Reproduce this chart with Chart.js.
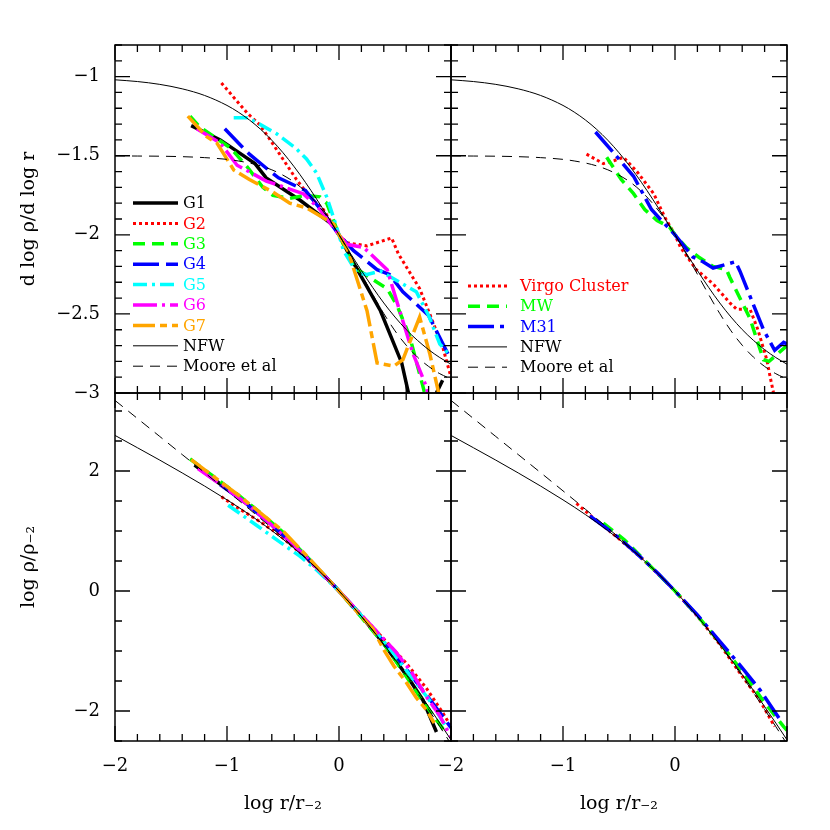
<!DOCTYPE html>
<html>
<head>
<meta charset="utf-8">
<script src="https://cdn.jsdelivr.net/npm/chart.js@4.4.0/dist/chart.umd.min.js"></script>
<style>
body { margin: 0; background: #fff; }
#wrap { position: relative; width: 830px; height: 830px; background: #fff; }
#wrap canvas { position: absolute; left: 0; top: 0; }
</style>
</head>
<body>
<div id="wrap">
  <canvas id="tl" width="830" height="830"></canvas>
  <canvas id="tr" width="830" height="830"></canvas>
  <canvas id="bl" width="830" height="830"></canvas>
  <canvas id="br" width="830" height="830"></canvas>
</div>
<script>
// tick labels
const xTickLabels = [-2, -1, 0];
const slopeTickLabels = [-3, -2.5, -2, -1.5, -1];
const densTickLabels = [-2, 0, 2];

// NFW and Moore model curves
const modelX = [-2, -1.8, -1.6, -1.4, -1.2, -1.0, -0.9, -0.8, -0.7, -0.6, -0.5, -0.4, -0.3, -0.2, -0.1, 0, 0.1, 0.2, 0.3, 0.4, 0.5, 0.6, 0.7, 0.8, 0.9, 1.0];
const nfwSlope = [-1.02, -1.031, -1.049, -1.077, -1.119, -1.182, -1.224, -1.274, -1.333, -1.402, -1.481, -1.570, -1.668, -1.774, -1.885, -2.0, -2.115, -2.226, -2.332, -2.431, -2.520, -2.599, -2.667, -2.726, -2.776, -2.818];
const mooreSlope = [-1.501, -1.502, -1.503, -1.506, -1.512, -1.523, -1.533, -1.546, -1.564, -1.589, -1.623, -1.667, -1.726, -1.801, -1.892, -2.0, -2.121, -2.249, -2.377, -2.498, -2.607, -2.698, -2.773, -2.832, -2.878, -2.911];
const nfwDens = [2.593, 2.388, 2.181, 1.968, 1.749, 1.519, 1.399, 1.274, 1.144, 1.007, 0.863, 0.711, 0.549, 0.377, 0.194, 0, -0.206, -0.423, -0.651, -0.889, -1.137, -1.393, -1.656, -1.926, -2.201, -2.481];
const mooreDens = [3.176, 2.876, 2.575, 2.274, 1.973, 1.669, 1.517, 1.363, 1.207, 1.050, 0.889, 0.725, 0.555, 0.379, 0.195, 0, -0.206, -0.424, -0.656, -0.900, -1.155, -1.420, -1.694, -1.975, -2.260, -2.550];

// top left: logarithmic slope of G1..G7
const g1SlopeX = [-1.32, -1.06, -0.75, -0.65, -0.35, -0.05, 0, 0.1, 0.37, 0.56, 0.62, 0.74, 0.87, 0.925];
const g1Slope = [-1.31, -1.40, -1.55, -1.64, -1.78, -1.94, -2.0, -2.14, -2.48, -2.81, -3.0, -3.25, -3.0, -2.92];
const g2SlopeX = [-1.05, -0.82, -0.7, -0.53, -0.38, -0.26, -0.14, 0, 0.07, 0.25, 0.47, 0.53, 0.72, 0.81, 0.93, 1.0];
const g2Slope = [-1.04, -1.23, -1.31, -1.49, -1.65, -1.76, -1.84, -2.0, -2.05, -2.07, -2.02, -2.12, -2.34, -2.50, -2.72, -2.90];
const g3SlopeX = [-1.33, -1.24, -0.97, -0.82, -0.68, -0.59, -0.44, -0.3, -0.17, -0.11, 0, 0.13, 0.19, 0.34, 0.43, 0.52, 0.63, 0.75, 0.8];
const g3Slope = [-1.25, -1.32, -1.45, -1.57, -1.70, -1.75, -1.77, -1.75, -1.76, -1.80, -2.0, -2.20, -2.23, -2.30, -2.34, -2.45, -2.64, -2.96, -3.1];
const g4SlopeX = [-1.02, -0.87, -0.8, -0.63, -0.54, -0.39, -0.3, -0.14, 0, 0.13, 0.34, 0.45, 0.57, 0.8, 0.95, 1.0];
const g4Slope = [-1.33, -1.44, -1.49, -1.59, -1.64, -1.69, -1.72, -1.86, -2.0, -2.10, -2.22, -2.25, -2.36, -2.51, -2.72, -2.79];
const g5SlopeX = [-0.94, -0.81, -0.56, -0.39, -0.29, -0.2, -0.11, -0.04, 0, 0.04, 0.16, 0.25, 0.37, 0.69, 0.8, 0.9, 1.0];
const g5Slope = [-1.26, -1.26, -1.36, -1.45, -1.52, -1.61, -1.76, -1.91, -2.0, -2.10, -2.24, -2.25, -2.23, -2.36, -2.51, -2.69, -2.77];
const g6SlopeX = [-1.27, -1.06, -0.91, -0.65, -0.32, -0.17, 0, 0.07, 0.22, 0.43, 0.52, 0.66, 0.78, 0.82];
const g6Slope = [-1.33, -1.42, -1.56, -1.66, -1.74, -1.84, -2.0, -2.06, -2.08, -2.22, -2.43, -2.75, -2.96, -3.1];
const g7SlopeX = [-1.35, -1.18, -1.09, -0.94, -0.8, -0.59, -0.44, -0.29, -0.05, 0, 0.08, 0.25, 0.34, 0.49, 0.57, 0.72, 0.81, 0.89];
const g7Slope = [-1.25, -1.38, -1.42, -1.59, -1.65, -1.73, -1.80, -1.83, -1.93, -2.0, -2.10, -2.48, -2.81, -2.83, -2.79, -2.52, -2.75, -3.0];

// top right: Virgo, MW, M31
const virgoSlopeX = [-0.79, -0.64, -0.54, -0.46, -0.34, -0.19, -0.09, 0, 0.05, 0.19, 0.34, 0.49, 0.55, 0.67, 0.74, 0.82, 0.85, 0.88];
const virgoSlope = [-1.49, -1.55, -1.53, -1.51, -1.60, -1.74, -1.89, -2.0, -2.08, -2.22, -2.31, -2.43, -2.47, -2.47, -2.60, -2.79, -2.90, -3.0];
const mwSlopeX = [-0.61, -0.48, -0.37, -0.27, -0.16, -0.05, 0, 0.1, 0.21, 0.34, 0.46, 0.49, 0.67, 0.79, 0.84, 0.92, 1.0];
const mwSlope = [-1.51, -1.65, -1.74, -1.84, -1.91, -1.95, -2.0, -2.08, -2.14, -2.20, -2.22, -2.27, -2.53, -2.79, -2.80, -2.75, -2.70];
const m31SlopeX = [-0.71, -0.55, -0.37, -0.21, -0.12, 0, 0.16, 0.25, 0.34, 0.54, 0.58, 0.79, 0.89, 0.97, 1.0];
const m31Slope = [-1.35, -1.48, -1.63, -1.84, -1.91, -2.0, -2.14, -2.17, -2.21, -2.17, -2.23, -2.60, -2.73, -2.68, -2.69];

// bottom left: density of G1..G7
const g1DensX = [-1.29, -1.0, -0.8, -0.6, -0.4, -0.2, 0, 0.2, 0.4, 0.63, 0.75, 0.87];
const g1Dens = [2.10, 1.70, 1.42, 1.10, 0.76, 0.39, 0, -0.42, -0.88, -1.48, -1.82, -2.35];
const g2DensX = [-1.05, -0.9, -0.7, -0.53, -0.35, -0.2, 0, 0.2, 0.4, 0.6, 0.78, 0.93, 1.0];
const g2Dens = [1.57, 1.38, 1.15, 0.93, 0.64, 0.38, 0, -0.40, -0.80, -1.20, -1.62, -2.04, -2.26];
const g3DensX = [-1.33, -1.1, -0.9, -0.7, -0.5, -0.3, 0, 0.2, 0.4, 0.6, 0.72, 0.85, 0.95];
const g3Dens = [2.20, 1.88, 1.60, 1.30, 0.98, 0.60, 0, -0.44, -0.88, -1.42, -1.76, -2.10, -2.35];
const g4DensX = [-1.06, -0.85, -0.6, -0.4, -0.2, 0, 0.2, 0.4, 0.6, 0.8, 0.95, 1.0];
const g4Dens = [1.77, 1.49, 1.10, 0.76, 0.39, 0, -0.41, -0.84, -1.30, -1.78, -2.15, -2.28];
const g5DensX = [-0.99, -0.74, -0.53, -0.35, -0.2, 0, 0.2, 0.4, 0.6, 0.8, 0.97];
const g5Dens = [1.43, 1.10, 0.82, 0.58, 0.35, 0, -0.41, -0.84, -1.32, -1.80, -2.30];
const g6DensX = [-1.26, -1.0, -0.8, -0.6, -0.4, -0.2, 0, 0.3, 0.5, 0.65, 0.78, 0.9, 1.0];
const g6Dens = [2.04, 1.70, 1.42, 1.10, 0.76, 0.39, 0, -0.60, -1.0, -1.36, -1.76, -2.08, -2.44];
const g7DensX = [-1.32, -1.1, -0.9, -0.7, -0.5, -0.3, 0, 0.2, 0.3, 0.4, 0.49, 0.6, 0.69, 0.78, 0.85];
const g7Dens = [2.19, 1.88, 1.60, 1.30, 1.00, 0.61, 0, -0.43, -0.62, -0.98, -1.25, -1.52, -1.78, -1.98, -2.2];

// bottom right: Virgo, MW, M31
const virgoDensX = [-0.88, -0.7, -0.5, -0.3, -0.1, 0, 0.2, 0.4, 0.58, 0.75, 0.89];
const virgoDens = [1.46, 1.17, 0.87, 0.55, 0.19, 0, -0.42, -0.89, -1.37, -1.80, -2.26];
const mwDensX = [-0.64, -0.45, -0.25, 0, 0.2, 0.4, 0.6, 0.8, 0.97, 1.0];
const mwDens = [1.13, 0.85, 0.47, 0, -0.41, -0.86, -1.34, -1.86, -2.26, -2.32];
const m31DensX = [-0.76, -0.55, -0.35, -0.15, 0, 0.2, 0.4, 0.6, 0.76, 0.94];
const m31Dens = [1.25, 0.96, 0.64, 0.29, 0, -0.40, -0.84, -1.28, -1.65, -2.15];

const serif = 'DejaVu Serif';

// line styles
const styles = {
  G1: {color: '#000000', dash: [], width: 3.5},
  G2: {color: '#ff0000', dash: [3, 3], width: 3},
  G3: {color: '#00ff00', dash: [12, 7], width: 3.5},
  G4: {color: '#0000ff', dash: [26, 7], width: 3.5},
  G5: {color: '#00ffff', dash: [14, 5, 3, 5], width: 3.5},
  G6: {color: '#ff00ff', dash: [24, 5, 3, 5], width: 3.5},
  G7: {color: '#ffa500', dash: [22, 5, 7, 5], width: 3.5},
  'Virgo Cluster': {color: '#ff0000', dash: [3, 3], width: 3},
  MW: {color: '#00ff00', dash: [12, 7], width: 3.5},
  M31: {color: '#0000ff', dash: [26, 6, 4, 6], width: 3.5},
  NFW: {color: '#000000', dash: [], width: 1},
  'Moore et al': {color: '#000000', dash: [10, 7], width: 1}
};

function pts(xs, ys) {
  return xs.map((x, i) => ({x: x, y: ys[i]}));
}

// order: lower number is drawn on top
function series(name, xs, ys, order, smooth) {
  const s = styles[name];
  return {
    label: name,
    data: pts(xs, ys),
    order: order,
    borderColor: s.color,
    borderDash: s.dash,
    borderWidth: s.width,
    pointRadius: 0,
    fill: false,
    clip: 0,
    tension: 0,
    cubicInterpolationMode: smooth ? 'monotone' : 'default'
  };
}

function fmt(v) {
  return String(v).replace('-', '\u2212');
}

// inward ticks on all four sides plus the frame
const frameTicks = {
  id: 'frameTicks',
  afterDatasetsDraw(chart, args, o) {
    const {ctx, chartArea: a, scales} = chart;
    ctx.save();
    ctx.strokeStyle = '#000';
    ctx.lineWidth = 1.3;
    ctx.setLineDash([]);
    ctx.beginPath();
    for (let i = 0; i <= 15; i++) {
      const px = scales.x.getPixelForValue(-2 + i * 0.2);
      const len = i % 5 === 0 ? 15 : 7;
      ctx.moveTo(px, a.bottom); ctx.lineTo(px, a.bottom - len);
      ctx.moveTo(px, a.top); ctx.lineTo(px, a.top + len);
    }
    const n = Math.round((o.yTo - o.yFrom) / o.yStep);
    for (let i = 0; i <= n; i++) {
      const v = o.yFrom + i * o.yStep;
      const r = v / o.yMajor;
      const len = Math.abs(r - Math.round(r)) < 1e-6 ? 15 : 7;
      const py = scales.y.getPixelForValue(v);
      ctx.moveTo(a.left, py); ctx.lineTo(a.left + len, py);
      ctx.moveTo(a.right, py); ctx.lineTo(a.right - len, py);
    }
    ctx.stroke();
    ctx.lineWidth = 1.5;
    ctx.strokeRect(a.left, a.top, a.right - a.left, a.bottom - a.top);
    ctx.restore();
  }
};

// line key drawn inside the panel
const lineKey = {
  id: 'lineKey',
  afterDraw(chart, args, o) {
    if (!o.items) return;
    const ctx = chart.ctx;
    ctx.save();
    ctx.font = '16px "' + serif + '"';
    ctx.textBaseline = 'middle';
    o.items.forEach((name, i) => {
      const s = styles[name];
      const y = o.y + i * o.dy;
      ctx.strokeStyle = s.color;
      ctx.lineWidth = s.width;
      ctx.setLineDash(s.dash);
      ctx.beginPath();
      ctx.moveTo(o.x0, y); ctx.lineTo(o.x1, y);
      ctx.stroke();
      ctx.fillStyle = s.color;
      ctx.fillText(name, o.tx, y + 1);
    });
    ctx.restore();
  }
};

function makePanel(id, cfg) {
  new Chart(document.getElementById(id), {
    type: 'line',
    data: {datasets: cfg.datasets},
    options: {
      responsive: false,
      animation: false,
      events: [],
      layout: {padding: cfg.padding},
      plugins: {
        legend: {display: false},
        tooltip: {enabled: false},
        frameTicks: cfg.ticks,
        lineKey: cfg.key || {}
      },
      scales: {
        x: {
          type: 'linear', min: -2, max: 1,
          display: cfg.showX,
          afterFit: s => { s.height = cfg.showX ? 89 : 0; },
          afterBuildTicks: s => { s.ticks = xTickLabels.map(v => ({value: v})); },
          grid: {display: false, drawTicks: false},
          border: {display: false},
          ticks: {padding: 15, color: '#000', font: {family: serif, size: 18}, callback: fmt, maxRotation: 0},
          title: {display: true, text: 'log r/r\u208B\u2082', color: '#000', font: {family: serif, size: 19}, padding: {top: 0, bottom: 15}}
        },
        y: {
          type: 'linear', min: cfg.yMin, max: cfg.yMax,
          display: cfg.showY,
          afterFit: s => { s.width = cfg.showY ? 115 : 0; },
          afterBuildTicks: s => { s.ticks = cfg.yTicks.map(v => ({value: v})); },
          grid: {display: false, drawTicks: false},
          border: {display: false},
          ticks: {padding: 15, color: '#000', font: {family: serif, size: 18}, callback: fmt},
          title: {display: true, text: cfg.yTitle, color: '#000', font: {family: serif, size: 19}, padding: {top: 18, bottom: 0}}
        }
      }
    },
    plugins: [frameTicks, lineKey]
  });
}

const slopeTicks = {yFrom: -3, yTo: -0.8, yStep: 0.1, yMajor: 0.5};
const densTicks = {yFrom: -2.5, yTo: 3.0, yStep: 0.5, yMajor: 2};

makePanel('tl', {
  padding: {left: 0, top: 45, right: 379, bottom: 437},
  showX: false, showY: true,
  yMin: -3, yMax: -0.8, yTicks: slopeTickLabels,
  yTitle: 'd log \u03C1/d log r',
  ticks: slopeTicks,
  key: {items: ['G1', 'G2', 'G3', 'G4', 'G5', 'G6', 'G7', 'NFW', 'Moore et al'], x0: 133, x1: 178, tx: 183, y: 203, dy: 20.4},
  datasets: [
    series('NFW', modelX, nfwSlope, 0, true),
    series('Moore et al', modelX, mooreSlope, 0, true),
    series('G1', g1SlopeX, g1Slope, 7),
    series('G2', g2SlopeX, g2Slope, 6),
    series('G3', g3SlopeX, g3Slope, 5),
    series('G4', g4SlopeX, g4Slope, 4),
    series('G5', g5SlopeX, g5Slope, 3),
    series('G6', g6SlopeX, g6Slope, 2),
    series('G7', g7SlopeX, g7Slope, 1)
  ]
});

makePanel('tr', {
  padding: {left: 451, top: 45, right: 43, bottom: 437},
  showX: false, showY: false,
  yMin: -3, yMax: -0.8, yTicks: slopeTickLabels,
  yTitle: '',
  ticks: slopeTicks,
  key: {items: ['Virgo Cluster', 'MW', 'M31', 'NFW', 'Moore et al'], x0: 468, x1: 507, tx: 520, y: 286, dy: 20.3},
  datasets: [
    series('NFW', modelX, nfwSlope, 0, true),
    series('Moore et al', modelX, mooreSlope, 0, true),
    series('Virgo Cluster', virgoSlopeX, virgoSlope, 3),
    series('MW', mwSlopeX, mwSlope, 2),
    series('M31', m31SlopeX, m31Slope, 1)
  ]
});

makePanel('bl', {
  padding: {left: 0, top: 393, right: 379, bottom: 0},
  showX: true, showY: true,
  yMin: -2.5, yMax: 3.3, yTicks: densTickLabels,
  yTitle: 'log \u03C1/\u03C1\u208B\u2082',
  ticks: densTicks,
  datasets: [
    series('NFW', modelX, nfwDens, 0, true),
    series('Moore et al', modelX, mooreDens, 0, true),
    series('G1', g1DensX, g1Dens, 7),
    series('G2', g2DensX, g2Dens, 6),
    series('G3', g3DensX, g3Dens, 5),
    series('G4', g4DensX, g4Dens, 4),
    series('G5', g5DensX, g5Dens, 3),
    series('G6', g6DensX, g6Dens, 2),
    series('G7', g7DensX, g7Dens, 1)
  ]
});

makePanel('br', {
  padding: {left: 451, top: 393, right: 43, bottom: 0},
  showX: true, showY: false,
  yMin: -2.5, yMax: 3.3, yTicks: densTickLabels,
  yTitle: '',
  ticks: densTicks,
  datasets: [
    series('NFW', modelX, nfwDens, 0, true),
    series('Moore et al', modelX, mooreDens, 0, true),
    series('Virgo Cluster', virgoDensX, virgoDens, 3),
    series('MW', mwDensX, mwDens, 2),
    series('M31', m31DensX, m31Dens, 1)
  ]
});
</script>
</body>
</html>
